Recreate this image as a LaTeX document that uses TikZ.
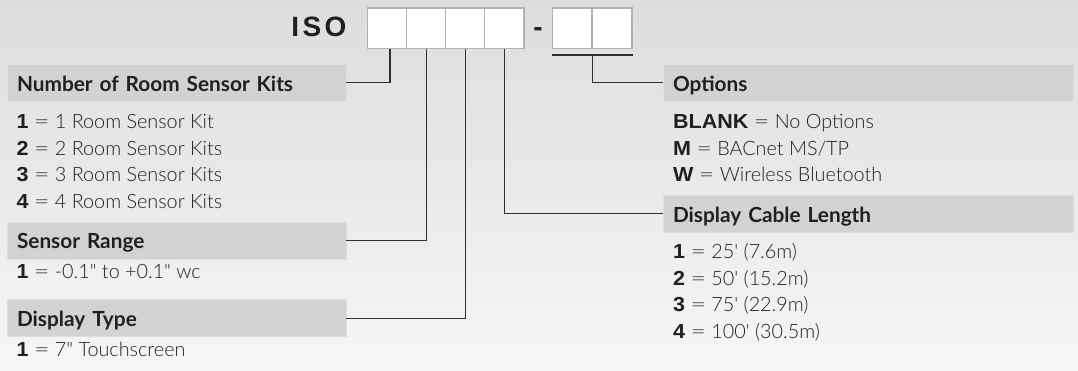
\documentclass[tikz,border=0pt]{standalone}
\usepackage{fontspec}
\usepackage{graphicx}
\setmainfont{Lato}
\newfontfamily\lightf[Ligatures=TeXOff]{Lato Light}
\newfontfamily\arialf[Ligatures=TeXOff]{Liberation Sans}
\newfontfamily\arialw[Ligatures=TeXOff,FakeStretch=1.06]{Liberation Sans}
\usetikzlibrary{calc}
\definecolor{bgtop}{RGB}{220,221,223}
\definecolor{bgbot}{RGB}{246,246,246}
\definecolor{hdrfill}{RGB}{209,210,212}
\definecolor{hdredge}{RGB}{222,223,225}
\definecolor{cellbd}{RGB}{178,178,180}
\definecolor{linecol}{RGB}{48,48,48}
\definecolor{txt}{RGB}{35,31,32}
\newcommand\nm[1]{{\arialw\bfseries\fontsize{20.3}{20.3}\selectfont #1}}
\newcommand\eqs{\scalebox{1.35}[1]{=}}
\tikzset{
  hdr/.style={fill=hdrfill, draw=hdredge, line width=0.6pt, anchor=north west, inner ysep=0pt, inner xsep=10pt,
    minimum height=37pt, text height=26.7pt, text depth=10.3pt, align=left, text=txt,
    font=\bfseries\fontsize{20.8}{20.8}\selectfont},
  hdrL/.style={hdr, minimum width=339pt, text width=319pt},
  hdrR/.style={hdr, minimum width=410pt, text width=390pt},
  item/.style={anchor=base west, inner sep=0pt, text=txt, font=\lightf\fontsize{19.8}{19.8}\selectfont},
  cell/.style={draw=cellbd, fill=white, line width=1.3pt, inner sep=0pt, minimum height=40.3pt},
  conn/.style={draw=linecol, line width=1.2pt},
  big/.style={anchor=base, inner sep=0pt, text=txt, font=\arialf\bfseries\fontsize{28}{28}\selectfont}
}
\begin{document}
\begin{tikzpicture}[x=1pt,y=-1pt]
\useasboundingbox (0,0) rectangle (1078,370);
\shade[top color=bgtop,bottom color=bgbot] (0,0) rectangle (1078,370);

% code
\node[big] (iso) at (318.9,36.7) {I\kern3.3pt S\kern3.3pt O};
\node[big] (dash) at (538,36.7) {-};
\node[cell, minimum width=39.3pt] (b1) at (387,28.2) {};
\node[cell, minimum width=39.3pt] (b2) at (426.3,28.2) {};
\node[cell, minimum width=39.3pt] (b3) at (465.2,28.2) {};
\node[cell, minimum width=39.3pt] (b4) at (504.2,28.2) {};
\node[cell, minimum width=39.7pt] (b5) at (572.2,28.2) {};
\node[cell, minimum width=39.7pt] (b6) at (612,28.2) {};

% headers
\node[hdrL] (h1) at (6.7,64) {Number of Room Sensor Kits};
\node[hdrL] (h2) at (6.7,221.7) {Sensor Range};
\node[hdrL] (h3) at (6.7,299.3) {Display Type};
\node[hdrR] (h4) at (662.7,64) {Options};
\node[hdrR] (h5) at (662.7,195) {Display Cable Length};

% items left
\node[item] (i11) at (16.5,128.3) {\nm{1} \eqs{} 1 Room Sensor Kit};
\node[item] (i12) at (16.5,155) {\nm{2} \eqs{} 2 Room Sensor Kits};
\node[item] (i13) at (16.5,181.7) {\nm{3} \eqs{} 3 Room Sensor Kits};
\node[item] (i14) at (16.5,208.3) {\nm{4} \eqs{} 4 Room Sensor Kits};
\node[item] (i21) at (16.5,278.3) {\nm{1} \eqs{} -0.1" to +0.1" wc};
\node[item] (i31) at (16.5,356.7) {\nm{1} \eqs{} 7" Touchscreen};

% items right
\node[item] (i41) at (673,128.3) {\nm{BLANK} \eqs{} No Options};
\node[item] (i42) at (673,155) {\nm{M} \eqs{} BACnet MS/TP};
\node[item] (i43) at (673,181.7) {\nm{W} \eqs{} Wireless Bluetooth};
\node[item] (i51) at (673,258.3) {\nm{1} \eqs{} 25' (7.6m)};
\node[item] (i52) at (673,285) {\nm{2} \eqs{} 50' (15.2m)};
\node[item] (i53) at (673,311.7) {\nm{3} \eqs{} 75' (22.9m)};
\node[item] (i54) at (673,338.3) {\nm{4} \eqs{} 100' (30.5m)};

% connectors
\draw[conn] ([xshift=3pt]b1.south) |- (h1.east);
\draw[conn] (b2.south) |- (h2.east);
\draw[conn] (b3.south) |- (h3.east);
\draw[conn] (b4.south) |- (h5.west);
\coordinate (ol) at ($(b5.south west)+(0,6)$);
\coordinate (or) at ($(b6.south east)+(0,6)$);
\coordinate (om) at ($(b5.south east)+(0,6)$);
\draw[conn] (ol) -- (or);
\draw[conn] (om) |- (h4.west);
\end{tikzpicture}
\end{document}
